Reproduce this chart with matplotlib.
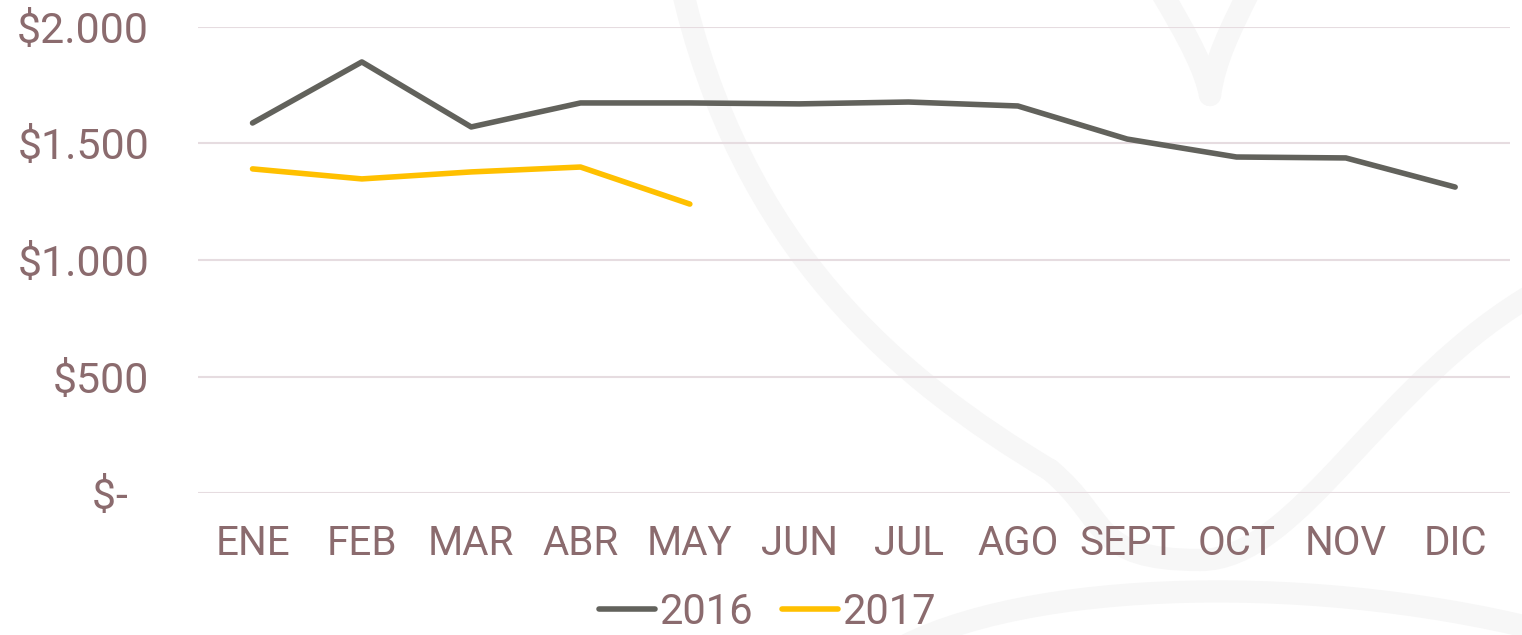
import matplotlib
matplotlib.use("Agg")
import matplotlib.pyplot as plt
from matplotlib.ticker import FixedLocator, FuncFormatter
from matplotlib.path import Path
from matplotlib.patches import PathPatch

months = ["ENE", "FEB", "MAR", "ABR", "MAY", "JUN", "JUL", "AGO", "SEPT", "OCT", "NOV", "DIC"]
values_2016 = [1588, 1850, 1571, 1674, 1674, 1670, 1678, 1661, 1519, 1442, 1438, 1313]
values_2017 = [1391, 1348, 1378, 1399, 1240]
y_ticks = [0, 500, 1000, 1500, 2000]

text_color = "#8B6B6E"
grid_color = "#E6DCE0"
c2016 = "#62625C"
c2017 = "#FFC000"
mark_color = "#F7F7F7"

plt.rcParams["font.family"] = ["Roboto", "DejaVu Sans"]

W, H = 1522, 635
fig = plt.figure(figsize=(W / 100, H / 100), dpi=100)


def fp(x, y):
    return (x / W, 1 - y / H)


# faint background watermark (decoration)
wm_paths = [
    ([(680, -20), (740, 250), (900, 380), (1050, 470)],
     [Path.MOVETO, Path.CURVE4, Path.CURVE4, Path.CURVE4]),
    ([(1050, 470), (1110, 520), (1090, 560), (1200, 560)],
     [Path.MOVETO, Path.CURVE4, Path.CURVE4, Path.CURVE4]),
    ([(1200, 560), (1300, 560), (1380, 380), (1540, 290)],
     [Path.MOVETO, Path.CURVE4, Path.CURVE4, Path.CURVE4]),
    ([(1160, -10), (1190, 40), (1205, 70), (1210, 95)],
     [Path.MOVETO, Path.CURVE4, Path.CURVE4, Path.CURVE4]),
    ([(1210, 95), (1215, 60), (1230, 30), (1250, -10)],
     [Path.MOVETO, Path.CURVE4, Path.CURVE4, Path.CURVE4]),
    ([(880, 660), (1000, 580), (1300, 570), (1540, 630)],
     [Path.MOVETO, Path.CURVE4, Path.CURVE4, Path.CURVE4]),
]
for pts, codes in wm_paths:
    p = Path([fp(*q) for q in pts], codes)
    fig.patches.append(PathPatch(p, transform=fig.transFigure, fill=False,
                                 edgecolor=mark_color, lw=16, capstyle="round", zorder=-5))

ax = fig.add_axes([0.130, 0.2236, 0.862, 0.7339])
ax.set_zorder(2)
ax.patch.set_alpha(0)

x16 = list(range(len(values_2016)))
x17 = list(range(len(values_2017)))
ax.plot(x16, values_2016, color=c2016, lw=4, solid_capstyle="round", solid_joinstyle="round", label="2016", zorder=3)
ax.plot(x17, values_2017, color=c2017, lw=4, solid_capstyle="round", solid_joinstyle="round", label="2017", zorder=3)

ax.set_xlim(-0.5, len(months) - 0.5)
ax.set_ylim(0, 2000)
ax.set_xticks(x16)
ax.set_xticklabels(months)
ax.yaxis.set_major_locator(FixedLocator(y_ticks))


def fmt(v, pos):
    if v == 0:
        return "$-  "
    return "$" + f"{int(v):,}".replace(",", ".")


ax.yaxis.set_major_formatter(FuncFormatter(fmt))
ax.grid(axis="y", color=grid_color, lw=1.5)
ax.set_axisbelow(True)
for s in ax.spines.values():
    s.set_visible(False)
ax.tick_params(axis="both", length=0, colors=text_color)
ax.tick_params(axis="x", labelsize=29, pad=22)
ax.tick_params(axis="y", labelsize=31, pad=35)

leg = fig.legend(loc="center", bbox_to_anchor=(0.504, 0.036), ncol=2, frameon=False,
                 fontsize=30, handlelength=1.35, handletextpad=0.1, columnspacing=0.7,
                 borderaxespad=0)
leg.set_zorder(3)
for t in leg.get_texts():
    t.set_color(text_color)

fig.savefig("out.png", dpi=100)
